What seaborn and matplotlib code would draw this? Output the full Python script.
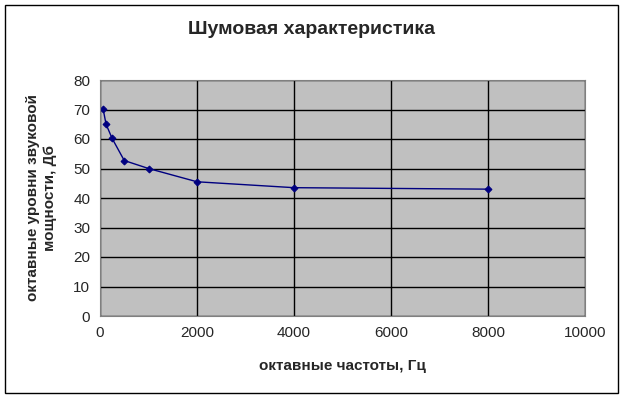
import matplotlib
matplotlib.use("Agg")
import matplotlib.pyplot as plt
import seaborn as sns
import pandas as pd
from matplotlib.patches import Rectangle

freq = [63, 125, 250, 500, 1000, 2000, 4000, 8000]
level = [70.3, 65, 60.2, 52.7, 50, 45.5, 43.5, 43]
xticks = [0, 2000, 4000, 6000, 8000, 10000]
yticks = [0, 10, 20, 30, 40, 50, 60, 70, 80]

sns.set_style("white")
plt.rcParams['font.family'] = ['Liberation Sans', 'DejaVu Sans']

df = pd.DataFrame({"x": freq, "y": level})
fig = plt.figure(figsize=(6.23, 3.98), dpi=100)
ax = fig.add_axes([100/623, 82/398, 485/623, 236/398])
ax.set_facecolor("#C0C0C0")
sns.lineplot(data=df, x="x", y="y", ax=ax, color="#000080", marker="D",
             markersize=3.5, markeredgecolor="#000080", linewidth=1.0)
ax.set_xlim(0, 10000)
ax.set_ylim(0, 80)
ax.set_xticks(xticks)
ax.set_yticks(yticks)
ax.grid(True, color="black", linewidth=1.0)
ax.set_axisbelow(True)
for s in ["top", "right", "left", "bottom"]:
    ax.spines[s].set_color("#808080")
ax.tick_params(axis="both", direction="out", length=4, width=0.8, color="#808080",
               labelsize=11, pad=3)
ax.set_xlabel("октавные частоты, Гц", fontsize=11, fontweight="bold", labelpad=14)
ax.set_ylabel("октавные уровни звуковой\nмощности, Дб", fontsize=11, fontweight="bold", labelpad=12)
fig.text(311/623, 1 - 30/398, "Шумовая характеристика", ha="center", va="center",
         fontsize=14, fontweight="bold")
fig.patches.append(Rectangle((5/623, 5/398), 613/623, 388/398, transform=fig.transFigure,
                             fill=False, edgecolor="black", linewidth=1.0))
fig.savefig("out.png", dpi=100, facecolor="white")
